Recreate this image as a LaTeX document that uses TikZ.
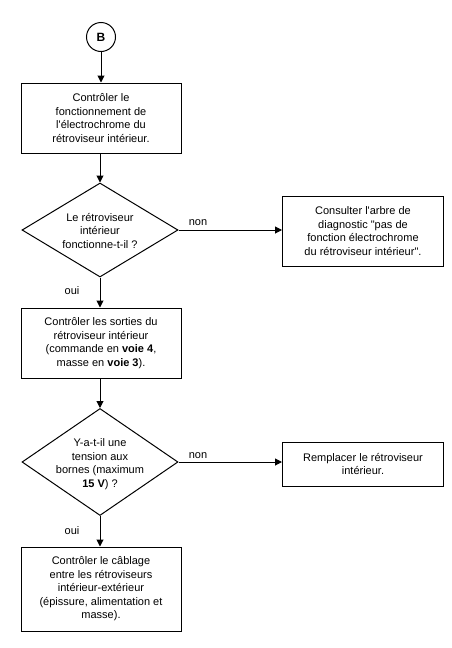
\documentclass[tikz,border=0pt]{standalone}
\usepackage{fontspec}
\setmainfont{Liberation Sans}
\usetikzlibrary{shapes.geometric,arrows.meta}
\begin{document}
\begin{tikzpicture}[x=1pt,y=-1pt,
  every node/.style={font=\fontsize{11}{13.5}\selectfont},
  boxn/.style={draw,line width=1pt,rectangle,inner sep=0pt,align=center},
  dian/.style={draw,line width=1pt,diamond,inner sep=0pt},
  txtn/.style={align=center,inner sep=0pt},
  lbl/.style={inner sep=0pt},
  arr/.style={line width=1pt,-{Triangle[length=7pt,width=7pt]}}]
\useasboundingbox (0,0) rectangle (451,648);
\node[draw,line width=1pt,circle,minimum size=29pt,inner sep=0pt,font=\fontsize{12}{14}\selectfont\bfseries] (b) at (101,37) {B};
\node[boxn,minimum width=160pt,minimum height=70pt] (c1) at (101,118) {Contrôler le\\fonctionnement de\\l\textquotesingle électrochrome du\\rétroviseur intérieur.};
\node[dian,minimum width=156pt,minimum height=94pt] (d1) at (100,230) {};
\node[txtn] (d1t) at (100,231) {Le rétroviseur\\intérieur\\fonctionne-t-il ?};
\node[boxn,minimum width=161pt,minimum height=70pt] (k1) at (363,231) {Consulter l\textquotesingle arbre de\\diagnostic \textquotedbl pas de\\fonction électrochrome\\du rétroviseur intérieur\textquotedbl .};
\node[boxn,minimum width=160pt,minimum height=70pt] (c2) at (101,343) {Contrôler les sorties du\\rétroviseur intérieur\\(commande en \textbf{voie 4},\\masse en \textbf{voie 3}).};
\node[dian,minimum width=156pt,minimum height=107pt] (d2) at (100,462) {};
\node[txtn] (d2t) at (100,464) {Y-a-t-il une\\tension aux\\bornes (maximum\\\textbf{15 V}) ?};
\node[boxn,minimum width=161pt,minimum height=44pt] (k2) at (363,464) {Remplacer le rétroviseur\\intérieur.};
\node[boxn,minimum width=160pt,minimum height=84pt] (c3) at (101,589) {Contrôler le câblage\\entre les rétroviseurs\\intérieur-extérieur\\(épissure, alimentation et\\masse).};
\node[lbl] (n1) at (198,223) {non};
\node[lbl] (o1) at (72,291) {oui};
\node[lbl] (n2) at (198,456) {non};
\node[lbl] (o2) at (72,531) {oui};
\draw[arr] (b) -- (c1);
\draw[arr] (c1.south -| d1.north) -- (d1.north);
\draw[arr] (d1.east) -- (k1.west |- d1.east);
\draw[arr] (d1.south) -- (d1.south |- c2.north);
\draw[arr] (c2.south -| d2.north) -- (d2.north);
\draw[arr] (d2.east) -- (k2.west |- d2.east);
\draw[arr] (d2.south) -- (d2.south |- c3.north);
\end{tikzpicture}
\end{document}
